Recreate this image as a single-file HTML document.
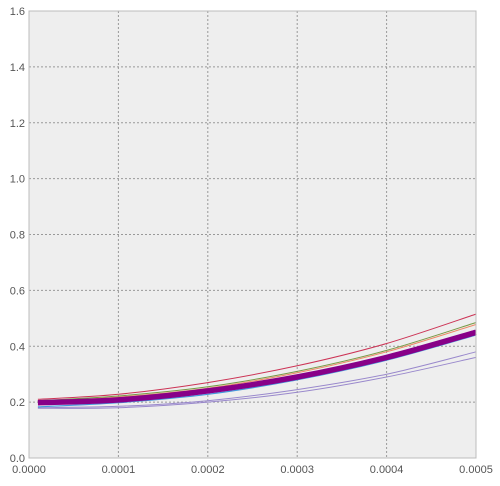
<!DOCTYPE html>
<html><head><meta charset="utf-8"><style>
body{margin:0;background:#fff;width:500px;height:481px;overflow:hidden}
svg text{font-family:"Liberation Sans",sans-serif;font-size:11px;fill:#555}
</style></head><body>
<svg id="chart" width="500" height="481" xmlns="http://www.w3.org/2000/svg"></svg>
<script>
const xValues=[0.00001,0.0001,0.0002,0.0003,0.0004,0.0005];
const seriesRed=[0.21,0.228,0.27,0.33,0.41,0.515];
const seriesGreen=[0.205,0.222,0.255,0.31,0.385,0.485];
const seriesOrange=[0.203,0.218,0.25,0.305,0.38,0.478];
const seriesPurple=[0.198,0.208,0.24,0.29,0.36,0.45];
const seriesBlue=[0.183,0.198,0.228,0.28,0.35,0.44];
const seriesLavenderA=[0.18,0.185,0.205,0.245,0.30,0.38];
const seriesLavenderB=[0.178,0.18,0.2,0.235,0.29,0.36];
const xTicks=[0,0.0001,0.0002,0.0003,0.0004,0.0005];
const xTickLabels=["0.0000","0.0001","0.0002","0.0003","0.0004","0.0005"];
const yTicks=[0,0.2,0.4,0.6,0.8,1.0,1.2,1.4,1.6];
const yTickLabels=["0.0","0.2","0.4","0.6","0.8","1.0","1.2","1.4","1.6"];
const L=29,R=476,T=11,B=458;
const sx=v=>L+(v-0)/0.0005*(R-L);
const sy=v=>B-(v/1.6)*(B-T);
const svg=document.getElementById('chart');
const NS="http://www.w3.org/2000/svg";
function mk(t,a){const e=document.createElementNS(NS,t);for(const k in a)e.setAttribute(k,a[k]);svg.appendChild(e);return e;}
let bg=mk('rect',{x:L,y:T,width:R-L,height:B-T,fill:'#eeeeee'});


xTicks.forEach((v,i)=>{
  const g=mk('line',{x1:sx(v),x2:sx(v),y1:T,y2:B,stroke:'#999',"stroke-dasharray":'2,2'});
  
  
  const t=mk('text',{x:sx(v),y:B+15,"text-anchor":'middle'});t.textContent=xTickLabels[i];
  
  
});
yTicks.forEach((v,i)=>{
  const g=mk('line',{x1:L,x2:R,y1:sy(v),y2:sy(v),stroke:'#999',"stroke-dasharray":'2,2'});
  
  
  const t=mk('text',{x:L-4,y:sy(v)+4,"text-anchor":'end'});t.textContent=yTickLabels[i];
  
  
});
function smoothPath(ys){
  const P=ys.map((v,i)=>[sx(xValues[i]),sy(v)]);
  let d='M'+P[0][0].toFixed(1)+','+P[0][1].toFixed(1);
  for(let i=0;i<P.length-1;i++){
    const p0=P[i-1]||P[i],p1=P[i],p2=P[i+1],p3=P[i+2]||P[i+1];
    const c1=[p1[0]+(p2[0]-p0[0])/6,p1[1]+(p2[1]-p0[1])/6];
    const c2=[p2[0]-(p3[0]-p1[0])/6,p2[1]-(p3[1]-p1[1])/6];
    d+='C'+c1.map(n=>n.toFixed(1)).join(',')+' '+c2.map(n=>n.toFixed(1)).join(',')+' '+p2.map(n=>n.toFixed(1)).join(',');
  }
  return d;
}
const series=[
 [seriesLavenderB,'#9988cc',1,'series-lavender-b'],
 [seriesLavenderA,'#9988cc',1,'series-lavender-a'],
 [seriesBlue,'#4499dd',1.2,'series-blue'],
 [seriesRed,'#cc3355',1,'series-red'],
 [seriesGreen,'#779944',1,'series-green'],
 [seriesOrange,'#ee8866',1,'series-orange'],
 [seriesPurple,'#880088',5.5,'series-purple']
];
series.forEach(s=>{
  const p=mk('path',{d:smoothPath(s[0]),fill:'none',stroke:s[1],"stroke-width":s[2],"stroke-linejoin":'round'});
  
  
});
const fr=mk('rect',{x:L,y:T,width:R-L,height:B-T,fill:'none',stroke:'#bcbcbc'});


</script>
</body></html>
